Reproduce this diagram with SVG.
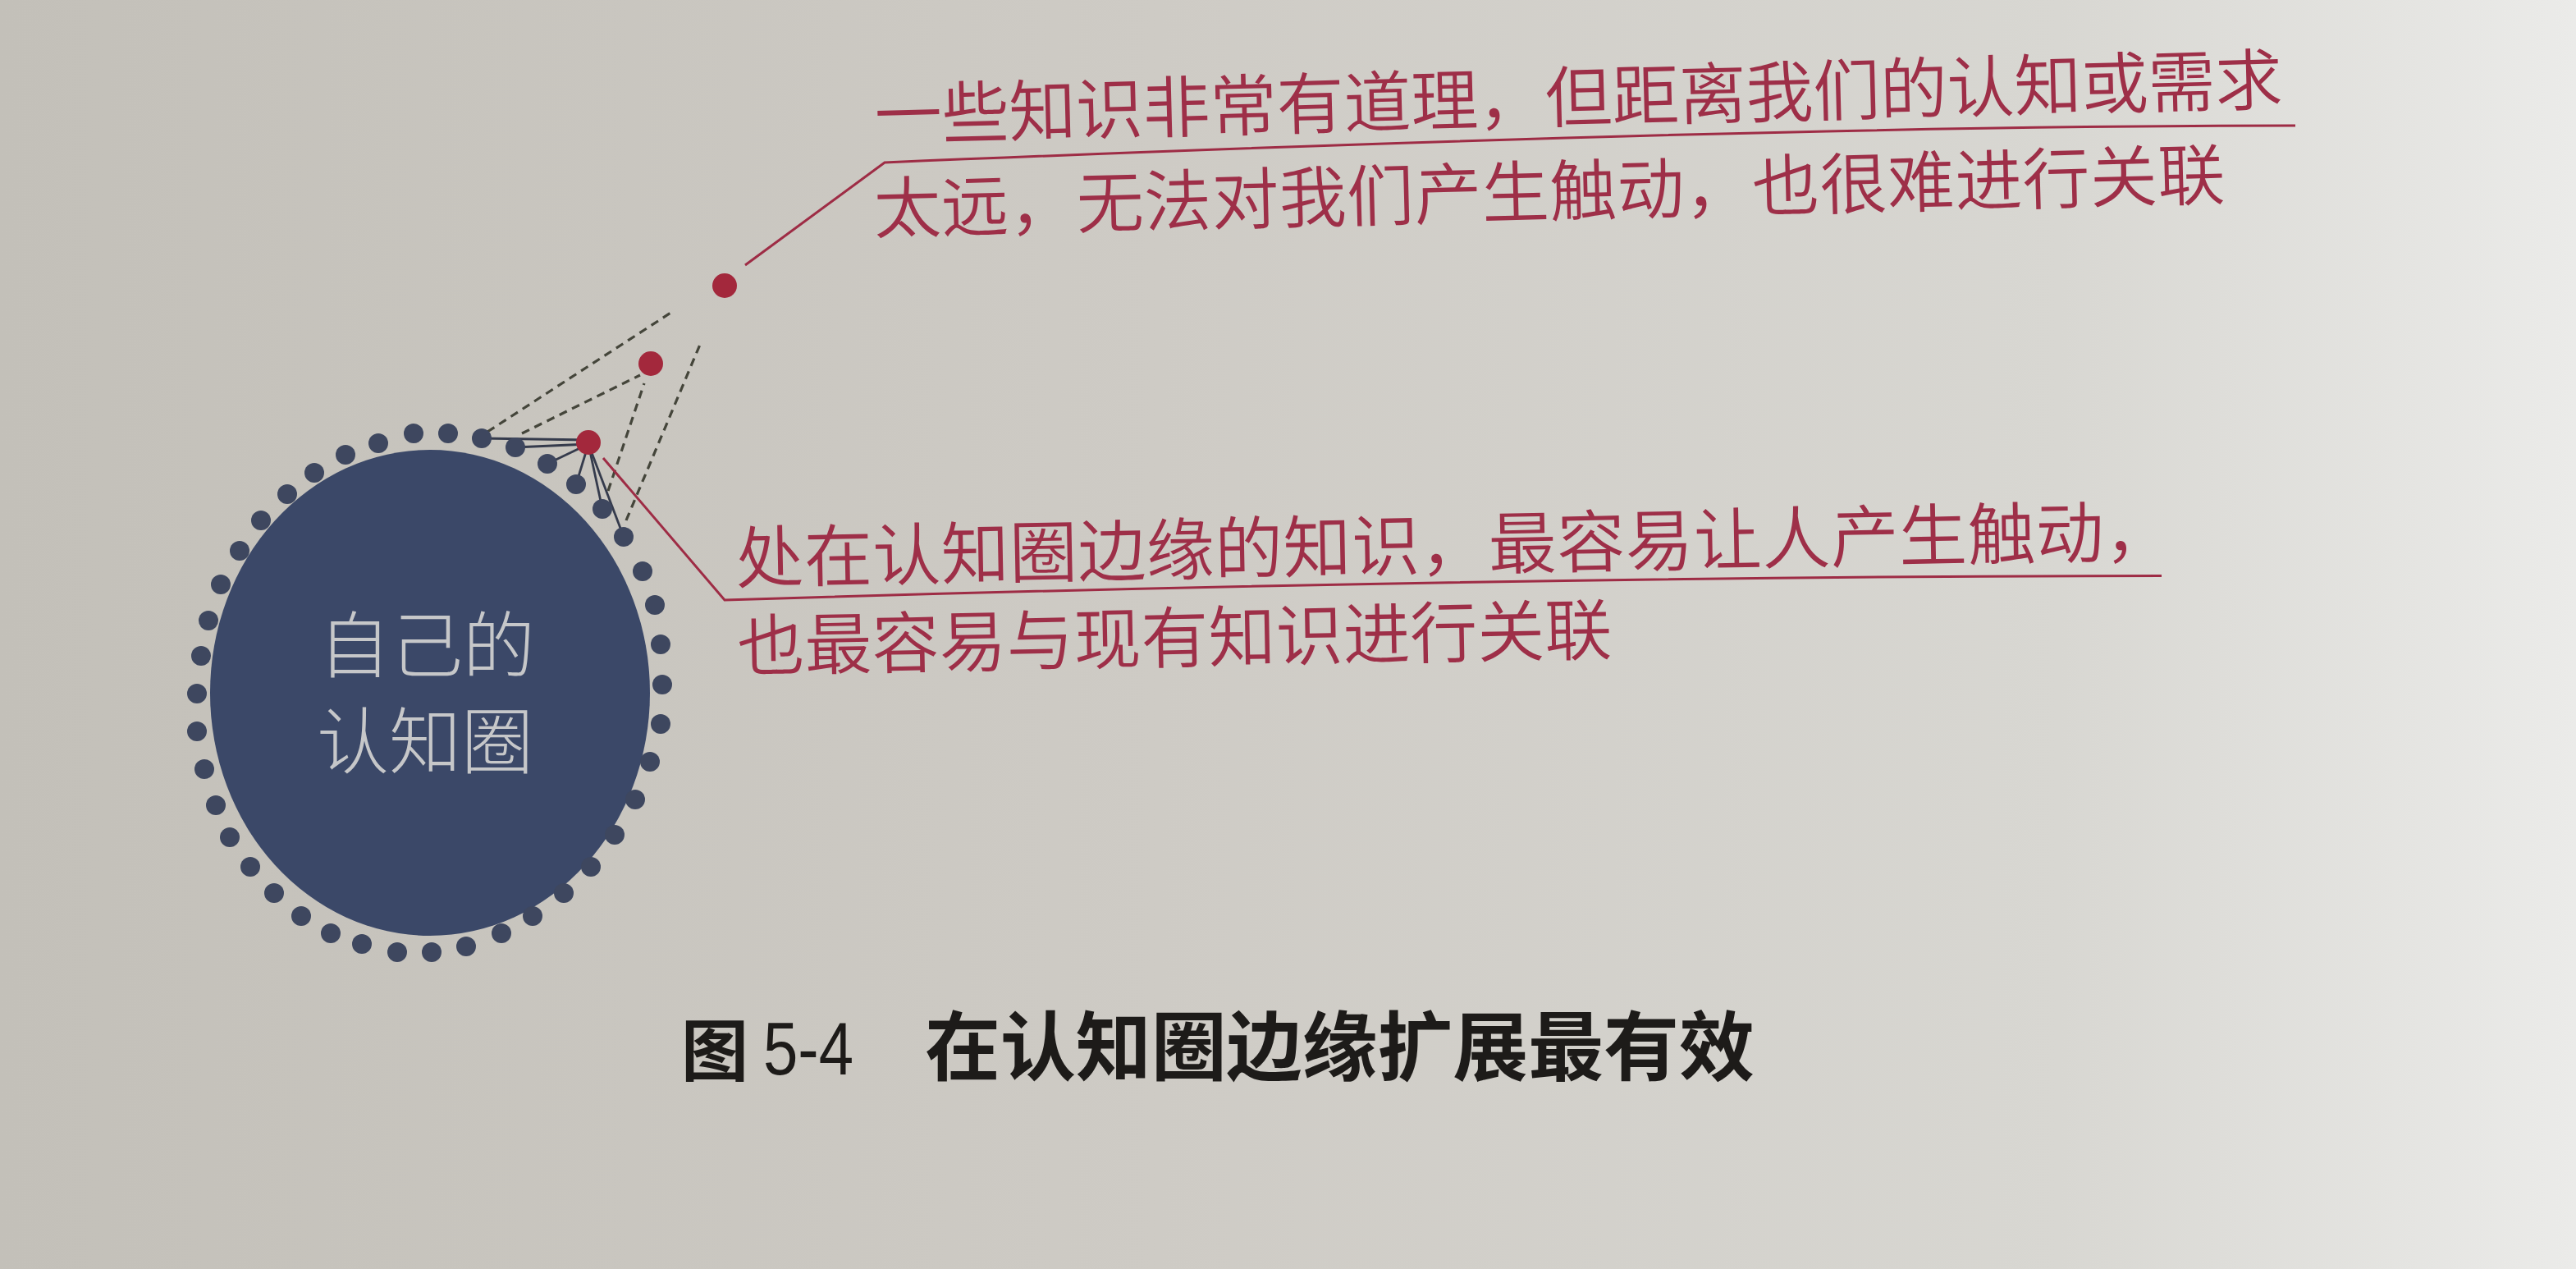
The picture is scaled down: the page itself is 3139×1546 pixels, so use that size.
<svg xmlns="http://www.w3.org/2000/svg" width="3139" height="1546" viewBox="0 0 3139 1546">
<defs>
<linearGradient id="paper" x1="0" y1="0" x2="1" y2="0">
<stop offset="0" stop-color="#c3c0b9"/>
<stop offset="0.45" stop-color="#cecbc5"/>
<stop offset="0.8" stop-color="#d8d7d2"/>
<stop offset="1" stop-color="#ebebe9"/>
</linearGradient>
<style>
.dot{fill:#3e475f}
.red{fill:#a3283c}
.link{stroke:#353b4c;stroke-width:2.8;fill:none}
.dash{stroke:#44453a;stroke-width:3.2;fill:none;stroke-dasharray:10 7}
.leader{stroke:#9e2c45;stroke-width:3;fill:none}
.note{font-family:"Noto Sans CJK SC","Noto Sans CJK JP",sans-serif;fill:#9e2f48;font-size:82px;font-weight:350}
.inner{font-family:"Noto Sans CJK SC","Noto Sans CJK JP",sans-serif;fill:#c6c7c9;font-size:88px;font-weight:300;text-anchor:middle}
.cap{font-family:"Noto Sans CJK SC","Noto Sans CJK JP",sans-serif;fill:#1d1b19;font-size:92px;font-weight:bold}
.capnum{font-family:"Liberation Sans","Noto Sans",sans-serif;fill:#1d1b19;font-size:90px}
</style>
</defs>
<rect x="0" y="0" width="3139" height="1546" fill="url(#paper)"/>

<g id="connectors">
<line class="link" x1="717" y1="536" x2="587" y2="534"/>
<line class="link" x1="717" y1="541" x2="628" y2="545"/>
<line class="link" x1="717" y1="541" x2="667" y2="565"/>
<line class="link" x1="717" y1="541" x2="702" y2="590"/>
<line class="link" x1="717" y1="541" x2="734" y2="620"/>
<line class="link" x1="717" y1="541" x2="760" y2="654"/>
<line class="dash" x1="594" y1="526" x2="822" y2="378"/>
<line class="dash" x1="636" y1="528" x2="780" y2="457"/>
<line class="dash" x1="741" y1="598" x2="785" y2="467"/>
<line class="dash" x1="763" y1="634" x2="855" y2="415"/>
<path class="leader" d="M908,323 L1078,198 C1700,172 2300,153 2797,153"/>
<path class="leader" d="M735,558 L883,731 C1500,712 2100,702 2634,701.5"/>
</g>

<g id="cognitive-circle">
<ellipse cx="524" cy="844" rx="268" ry="296" fill="#3b4868"/>
<text class="inner" x="520" y="818">自己的</text>
<text class="inner" x="518" y="935">认知圈</text>
</g>

<g id="edge-dots">
<circle class="dot" cx="504" cy="528" r="12"/>
<circle class="dot" cx="546" cy="528" r="12"/>
<circle class="dot" cx="587" cy="534" r="12"/>
<circle class="dot" cx="628" cy="545" r="12"/>
<circle class="dot" cx="667" cy="565" r="12"/>
<circle class="dot" cx="702" cy="590" r="12"/>
<circle class="dot" cx="734" cy="620" r="12"/>
<circle class="dot" cx="760" cy="654" r="12"/>
<circle class="dot" cx="783" cy="696" r="12"/>
<circle class="dot" cx="798" cy="737" r="12"/>
<circle class="dot" cx="805" cy="785" r="12"/>
<circle class="dot" cx="807" cy="834" r="12"/>
<circle class="dot" cx="805" cy="882" r="12"/>
<circle class="dot" cx="792" cy="928" r="12"/>
<circle class="dot" cx="774" cy="974" r="12"/>
<circle class="dot" cx="749" cy="1017" r="12"/>
<circle class="dot" cx="720" cy="1056" r="12"/>
<circle class="dot" cx="687" cy="1088" r="12"/>
<circle class="dot" cx="649" cy="1116" r="12"/>
<circle class="dot" cx="611" cy="1137" r="12"/>
<circle class="dot" cx="568" cy="1153" r="12"/>
<circle class="dot" cx="526" cy="1160" r="12"/>
<circle class="dot" cx="484" cy="1160" r="12"/>
<circle class="dot" cx="441" cy="1150" r="12"/>
<circle class="dot" cx="403" cy="1137" r="12"/>
<circle class="dot" cx="367" cy="1116" r="12"/>
<circle class="dot" cx="334" cy="1088" r="12"/>
<circle class="dot" cx="305" cy="1056" r="12"/>
<circle class="dot" cx="280" cy="1020" r="12"/>
<circle class="dot" cx="263" cy="981" r="12"/>
<circle class="dot" cx="249" cy="937" r="12"/>
<circle class="dot" cx="240" cy="891" r="12"/>
<circle class="dot" cx="240" cy="845" r="12"/>
<circle class="dot" cx="245" cy="799" r="12"/>
<circle class="dot" cx="254" cy="756" r="12"/>
<circle class="dot" cx="269" cy="712" r="12"/>
<circle class="dot" cx="292" cy="671" r="12"/>
<circle class="dot" cx="318" cy="634" r="12"/>
<circle class="dot" cx="350" cy="602" r="12"/>
<circle class="dot" cx="383" cy="576" r="12"/>
<circle class="dot" cx="421" cy="554" r="12"/>
<circle class="dot" cx="461" cy="540" r="12"/>
</g>

<g id="knowledge-edge"><circle class="red" cx="717" cy="539" r="15"/></g>
<g id="knowledge-mid"><circle class="red" cx="793" cy="443" r="15"/></g>
<g id="knowledge-far"><circle class="red" cx="883" cy="348" r="15"/></g>

<g id="note-far" transform="rotate(-1.45 1068 227)">
<text class="note" x="1068" y="170" textLength="1716" lengthAdjust="spacing">一些知识非常有道理，但距离我们的认知或需求</text>
<text class="note" x="1064" y="284" textLength="1647" lengthAdjust="spacing">太远，无法对我们产生触动，也很难进行关联</text>
</g>

<g id="note-edge" transform="rotate(-1.07 898 763)">
<text class="note" x="898" y="710" style="font-size:83px" textLength="1751" lengthAdjust="spacing">处在认知圈边缘的知识，最容易让人产生触动，</text>
<text class="note" x="898" y="817" style="font-size:82px">也最容易与现有知识进行关联</text>
</g>

<g id="caption">
<text class="cap" x="830" y="1310" style="font-size:82px">图</text>
<text class="capnum" x="930" y="1309" textLength="110" lengthAdjust="spacingAndGlyphs">5-4</text>
<text class="cap" x="1127" y="1309" textLength="1011" lengthAdjust="spacing">在认知圈边缘扩展最有效</text>
</g>
</svg>
